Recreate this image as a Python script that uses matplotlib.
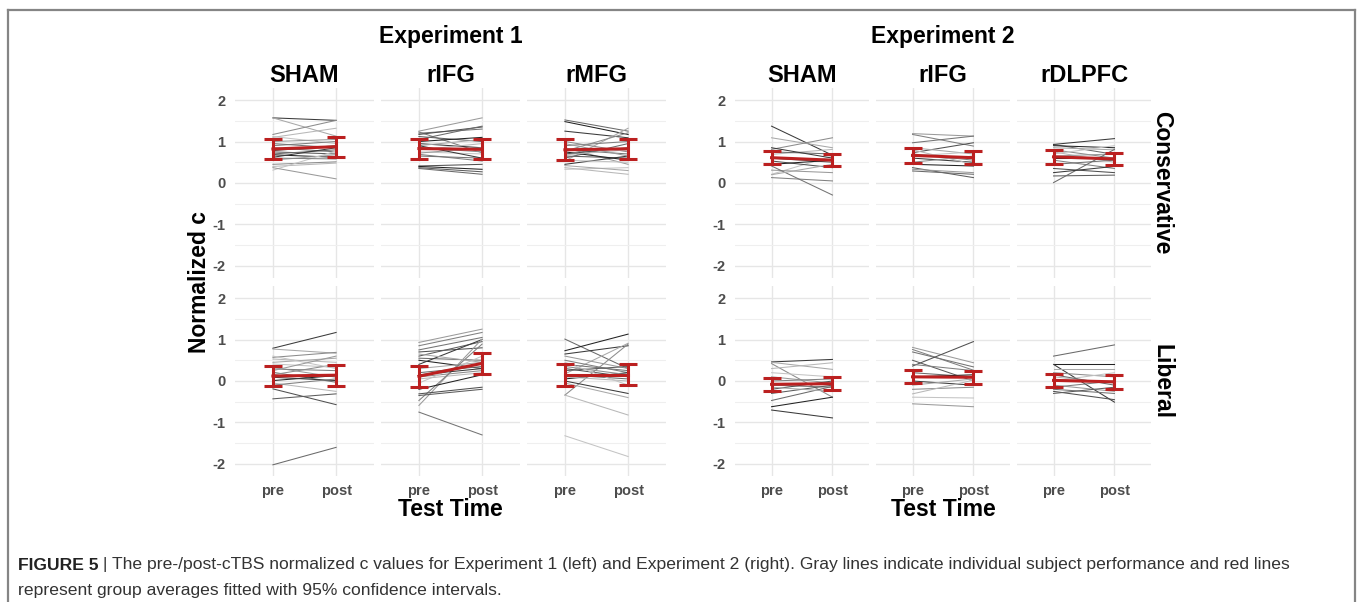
import matplotlib.pyplot as plt
from matplotlib.lines import Line2D
from matplotlib.text import Annotation

plt.rcParams['font.family'] = ['Liberation Sans', 'DejaVu Sans']

# Labels
exp_titles = ["Experiment 1", "Experiment 2"]
exp1_conditions = ["SHAM", "rIFG", "rMFG"]
exp2_conditions = ["SHAM", "rIFG", "rDLPFC"]
row_labels = ["Conservative", "Liberal"]
time_labels = ["pre", "post"]
y_ticks = [-2, -1, 0, 1, 2]
y_tick_labels = ["-2", "-1", "0", "1", "2"]

# Individual subjects, Experiment 1, conservative
e1_sham_con_pre = [1.57, 1.57, 1.17, 1.10, 1.12, 1.00, 0.90, 0.85, 0.78, 0.75, 0.70, 0.68, 0.62, 0.55, 0.45, 0.40, 0.31, 0.37, 0.60, 0.95]
e1_sham_con_post = [1.51, 1.13, 1.51, 1.32, 0.95, 1.05, 1.00, 0.75, 0.90, 0.70, 0.80, 0.62, 0.85, 0.68, 0.51, 0.48, 0.77, 0.10, 0.58, 0.85]
e1_rifg_con_pre = [1.25, 1.23, 1.20, 1.17, 1.12, 1.05, 1.00, 0.95, 0.90, 0.85, 0.80, 0.75, 0.72, 0.69, 0.65, 0.41, 0.37, 0.35, 0.40, 0.90]
e1_rifg_con_post = [1.57, 0.73, 1.30, 1.35, 1.00, 1.37, 1.10, 0.85, 1.05, 0.75, 0.95, 0.70, 0.85, 0.53, 0.60, 0.45, 0.27, 0.21, 0.33, 0.60]
e1_rmfg_con_pre = [1.52, 1.48, 1.25, 0.53, 0.77, 0.37, 0.33, 0.85, 0.90, 0.80, 0.70, 0.65, 0.60, 0.75, 0.45, 0.42, 1.00, 0.68, 0.55, 0.95]
e1_rmfg_con_post = [1.25, 1.17, 1.09, 1.32, 1.21, 0.21, 0.37, 0.45, 1.00, 0.70, 0.85, 0.60, 0.95, 0.55, 0.65, 0.30, 0.75, 0.80, 0.50, 0.65]

# Individual subjects, Experiment 1, liberal
e1_sham_lib_pre = [0.79, 0.77, 0.57, 0.53, 0.41, 0.33, 0.29, 0.21, -0.19, -0.43, -2.02, 0.01, 0.09, 0.45, 0.15, -0.05, 0.60, 0.25, -0.10]
e1_sham_lib_post = [1.17, 0.67, 0.69, 0.45, 0.33, 0.09, 0.25, -0.03, -0.57, -0.31, -1.60, 0.13, 0.01, 0.55, 0.40, -0.25, 0.30, 0.60, 0.05]
e1_rifg_lib_pre = [0.93, 0.85, 0.75, 0.70, 0.60, 0.55, 0.50, 0.40, 0.30, 0.10, 0.05, -0.05, -0.59, -0.47, -0.75, -0.31, -0.35, 0.20, -0.20, 0.15, 0.65]
e1_rifg_lib_post = [1.25, 1.17, 1.05, 0.80, 0.95, 0.50, 0.30, 1.00, 0.45, 0.25, 0.20, 0.60, 1.01, 0.89, -1.30, -0.15, -0.20, 0.35, 0.15, 0.30, 0.45]
e1_rmfg_lib_pre = [1.01, 0.73, 0.65, 0.17, -0.34, -0.34, -1.32, 0.60, 0.50, 0.40, 0.30, 0.25, 0.15, 0.05, 0.00, -0.05, 0.35, 0.10, 0.45]
e1_rmfg_lib_post = [0.30, 1.13, 0.85, 0.91, 0.89, -0.82, -1.82, 0.30, 0.20, 0.25, 0.10, 0.35, 0.05, 0.20, -0.30, -0.40, 0.15, 0.00, -0.10]

# Individual subjects, Experiment 2, conservative
e2_sham_con_pre = [1.37, 1.09, 0.81, 0.69, 0.21, 0.31, 0.13, 0.41, 0.53, 0.60, 0.75, 0.45, 0.85, 0.20]
e2_sham_con_post = [0.67, 0.85, 1.09, 0.81, 0.65, 0.25, 0.05, -0.29, 0.37, 0.50, 0.70, 0.55, 0.60, 0.45]
e2_rifg_con_pre = [1.19, 1.17, 0.97, 0.73, 0.37, 0.29, 0.45, 0.60, 0.85, 0.50, 0.80, 0.65, 0.33, 0.70]
e2_rifg_con_post = [1.13, 0.89, 1.13, 0.97, 0.13, 0.21, 0.41, 0.50, 0.70, 0.65, 0.45, 0.75, 0.25, 0.55]
e2_rdlpfc_con_pre = [0.93, 0.90, 0.93, 0.85, 0.80, 0.75, 0.70, 0.65, 0.55, 0.45, 0.35, 0.17, 0.01, 0.60, 0.25]
e2_rdlpfc_con_post = [0.69, 0.85, 1.07, 0.80, 0.60, 0.50, 0.90, 0.70, 0.35, 0.55, 0.25, 0.19, 0.81, 0.60, 0.40]

# Individual subjects, Experiment 2, liberal
e2_sham_lib_pre = [0.46, 0.45, 0.42, 0.30, 0.20, 0.10, 0.00, -0.10, -0.20, -0.30, -0.47, -0.62, -0.70, -0.15]
e2_sham_lib_post = [0.52, 0.28, -0.39, 0.44, 0.10, -0.05, 0.05, -0.15, 0.00, -0.10, -0.13, -0.39, -0.89, -0.25]
e2_rifg_lib_pre = [0.81, 0.76, 0.70, 0.36, 0.50, 0.20, 0.10, 0.00, -0.10, -0.20, -0.31, -0.39, -0.55, 0.40]
e2_rifg_lib_post = [0.44, 0.26, 0.34, 0.95, 0.00, 0.10, 0.15, -0.10, 0.05, -0.15, 0.02, -0.41, -0.62, 0.25]
e2_rdlpfc_lib_pre = [0.60, 0.42, 0.40, 0.28, 0.20, 0.10, 0.00, -0.10, -0.15, -0.20, -0.25, -0.30, 0.15]
e2_rdlpfc_lib_post = [0.87, 0.42, -0.51, 0.28, 0.10, -0.05, 0.20, -0.25, 0.00, -0.30, -0.45, -0.15, -0.10]

# Group means and 95% CI half-widths (per condition)
e1_con_mean_pre = [0.82, 0.83, 0.80]
e1_con_mean_post = [0.875, 0.81, 0.825]
e1_con_ci_pre = [0.25, 0.24, 0.25]
e1_con_ci_post = [0.245, 0.24, 0.245]
e1_lib_mean_pre = [0.12, 0.115, 0.15]
e1_lib_mean_post = [0.14, 0.425, 0.15]
e1_lib_ci_pre = [0.25, 0.255, 0.26]
e1_lib_ci_post = [0.25, 0.245, 0.25]
e2_con_mean_pre = [0.61, 0.665, 0.63]
e2_con_mean_post = [0.55, 0.61, 0.58]
e2_con_ci_pre = [0.16, 0.175, 0.16]
e2_con_ci_post = [0.14, 0.16, 0.15]
e2_lib_mean_pre = [-0.08, 0.10, 0.015]
e2_lib_mean_post = [-0.065, 0.09, -0.02]
e2_lib_ci_pre = [0.16, 0.16, 0.165]
e2_lib_ci_post = [0.16, 0.155, 0.17]

subjects = {
    (0, 0): [(e1_sham_con_pre, e1_sham_con_post), (e1_rifg_con_pre, e1_rifg_con_post), (e1_rmfg_con_pre, e1_rmfg_con_post)],
    (0, 1): [(e1_sham_lib_pre, e1_sham_lib_post), (e1_rifg_lib_pre, e1_rifg_lib_post), (e1_rmfg_lib_pre, e1_rmfg_lib_post)],
    (1, 0): [(e2_sham_con_pre, e2_sham_con_post), (e2_rifg_con_pre, e2_rifg_con_post), (e2_rdlpfc_con_pre, e2_rdlpfc_con_post)],
    (1, 1): [(e2_sham_lib_pre, e2_sham_lib_post), (e2_rifg_lib_pre, e2_rifg_lib_post), (e2_rdlpfc_lib_pre, e2_rdlpfc_lib_post)],
}
means = {
    (0, 0): (e1_con_mean_pre, e1_con_mean_post, e1_con_ci_pre, e1_con_ci_post),
    (0, 1): (e1_lib_mean_pre, e1_lib_mean_post, e1_lib_ci_pre, e1_lib_ci_post),
    (1, 0): (e2_con_mean_pre, e2_con_mean_post, e2_con_ci_pre, e2_con_ci_post),
    (1, 1): (e2_lib_mean_pre, e2_lib_mean_post, e2_lib_ci_pre, e2_lib_ci_post),
}

grays = ['#3a3a3a', '#9a9a9a', '#6a6a6a', '#b8b8b8', '#505050', '#a8a8a8',
         '#808080', '#222222', '#c4c4c4', '#5c5c5c', '#8c8c8c', '#747474']
red = '#bb2020'

W, H = 1358, 602
fig = plt.figure(figsize=(W / 100, H / 100), dpi=100)


def fx(x):
    return x / W


def fy(y):
    return 1 - y / H


def add_px_axes(left, top, w, h):
    return fig.add_axes([fx(left), fy(top + h), w / W, h / H])


# panel geometry (pixels)
exp_lefts = [[235, 381, 527], [735, 876, 1017]]
exp_widths = [139, 134]
row_tops = [88, 286]
row_h = 190

for e in range(2):
    conds = exp1_conditions if e == 0 else exp2_conditions
    for r in range(2):
        mp, mq, cp, cq = means[(e, r)]
        for c in range(3):
            ax = add_px_axes(exp_lefts[e][c], row_tops[r], exp_widths[e], row_h)
            ax.set_xlim(0.4, 2.6)
            ax.set_ylim(-2.29, 2.29)
            for s in ax.spines.values():
                s.set_visible(False)
            ax.set_xticks([1, 2])
            ax.set_yticks(y_ticks)
            ax.set_yticks([-1.5, -0.5, 0.5, 1.5], minor=True)
            ax.grid(True, which='major', color='#e6e6e6', lw=1.0)
            ax.grid(True, which='minor', axis='y', color='#efefef', lw=0.8)
            ax.tick_params(which='both', length=0)
            ax.set_axisbelow(True)
            if r == 1:
                ax.set_xticklabels(time_labels, fontsize=10.5, fontweight='bold', color='#4d4d4d')
                ax.tick_params(axis='x', pad=6)
            else:
                ax.set_xticklabels([])
            if c == 0:
                ax.set_yticklabels(y_tick_labels, fontsize=10.5, fontweight='bold', color='#4d4d4d')
                ax.tick_params(axis='y', pad=7)
            else:
                ax.set_yticklabels([])

            pre, post = subjects[(e, r)][c]
            for i, (a, b) in enumerate(zip(pre, post)):
                ax.plot([1, 2], [a, b], color=grays[(i * 5 + c) % len(grays)], lw=0.75, zorder=2)

            ax.plot([1, 2], [mp[c], mq[c]], color=red, lw=2.2, zorder=4)
            ax.errorbar([1, 2], [mp[c], mq[c]], yerr=[cp[c], cq[c]], fmt='none',
                        ecolor=red, elinewidth=2.2, capsize=6.5, capthick=2.2, zorder=5)

            if r == 0:
                cx = exp_lefts[e][c] + exp_widths[e] / 2
                fig.text(fx(cx), fy(75), conds[c], ha='center', va='center',
                         fontsize=17, fontweight='bold')

    ex_center = (exp_lefts[e][0] + exp_lefts[e][2] + exp_widths[e]) / 2
    fig.text(fx(ex_center), fy(37), exp_titles[e], ha='center', va='center',
             fontsize=16.5, fontweight='bold')
    fig.text(fx(ex_center), fy(509), "Test Time", ha='center', va='center',
             fontsize=16.5, fontweight='bold')

# strip labels on the right
for r in range(2):
    fig.text(fx(1162), fy(row_tops[r] + row_h / 2), row_labels[r], ha='center', va='center',
             rotation=-90, fontsize=16.5, fontweight='bold')

fig.text(fx(200), fy(282), "Normalized c", ha='center', va='center', rotation=90,
         fontsize=16.5, fontweight='bold')

# frame
frame_kw = dict(color='#858585', lw=1.6, transform=fig.transFigure)
fig.add_artist(Line2D([fx(8), fx(1355)], [fy(10), fy(10)], **frame_kw))
fig.add_artist(Line2D([fx(8), fx(8)], [fy(10), fy(602)], **frame_kw))
fig.add_artist(Line2D([fx(1355), fx(1355)], [fy(10), fy(602)], **frame_kw))

# caption
cap_size = 12.6
t1 = fig.text(fx(18), fy(565), "FIGURE 5", ha='left', va='center',
              fontsize=cap_size, fontweight='bold', color='#222222')
fig.add_artist(Annotation(
    " | The pre-/post-cTBS normalized c values for Experiment 1 (left) and Experiment 2 (right). "
    "Gray lines indicate individual subject performance and red lines",
    xy=(1, 0.5), xycoords=t1, va='center', ha='left', fontsize=cap_size, color='#333333'))
fig.text(fx(18), fy(591), "represent group averages fitted with 95% confidence intervals.",
         ha='left', va='center', fontsize=cap_size, color='#333333')

fig.savefig("out.png", dpi=100)
